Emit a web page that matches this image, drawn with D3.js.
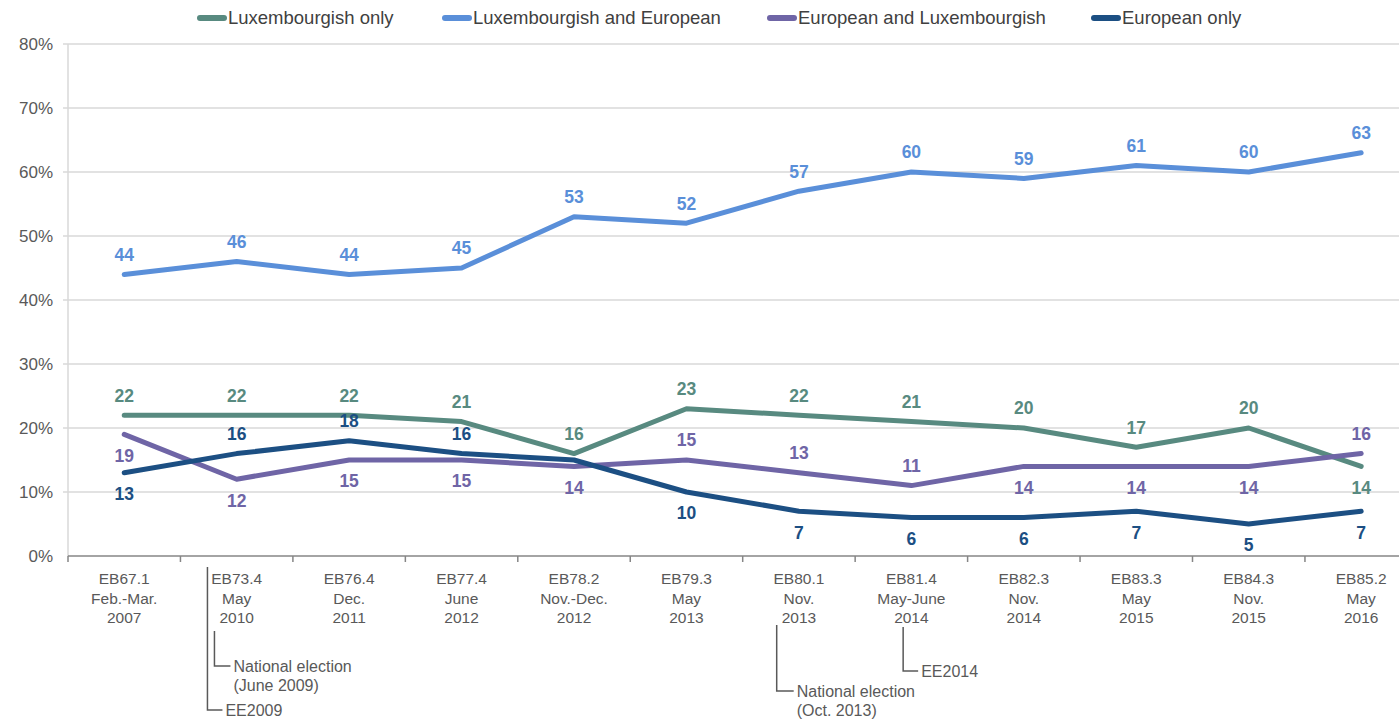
<!DOCTYPE html>
<html>
<head>
<meta charset="utf-8">
<script src="https://cdn.jsdelivr.net/npm/d3@7"></script>
<style>
  body { margin: 0; background: #fff; }
  svg { display: block; font-family: "Liberation Sans", Arial, sans-serif; }
</style>
</head>
<body>
<svg id="chart" width="1399" height="720"></svg>
<script>
// waves of the survey
const waves = ["EB67.1", "EB73.4", "EB76.4", "EB77.4", "EB78.2", "EB79.3", "EB80.1", "EB81.4", "EB82.3", "EB83.3", "EB84.3", "EB85.2"];
const periods = ["Feb.-Mar.", "May", "Dec.", "June", "Nov.-Dec.", "May", "Nov.", "May-June", "Nov.", "May", "Nov.", "May"];
const years = ["2007", "2010", "2011", "2012", "2012", "2013", "2013", "2014", "2014", "2015", "2015", "2016"];

const seriesNames = ["Luxembourgish only", "Luxembourgish and European", "European and Luxembourgish", "European only"];
const luxOnly = [22, 22, 22, 21, 16, 23, 22, 21, 20, 17, 20, 14];
const luxEur = [44, 46, 44, 45, 53, 52, 57, 60, 59, 61, 60, 63];
const eurLux = [19, 12, 15, 15, 14, 15, 13, 11, 14, 14, 14, 16];
const eurOnly = [13, 16, 18, 16, 15, 10, 7, 6, 6, 7, 5, 7];

const yTicks = [0, 10, 20, 30, 40, 50, 60, 70, 80];

// annotations under the axis
const notes = [
  { wave: "EB73.4", lines: ["EE2009"] },
  { wave: "EB73.4", lines: ["National election", "(June 2009)"] },
  { wave: "EB80.1", lines: ["National election", "(Oct. 2013)"] },
  { wave: "EB81.4", lines: ["EE2014"] }
];

// where each label sits: "a" above, "b" below, null hidden
const labelSide = [
  ["a","a","a","a","a","a","a","a","a","a","a","b"],
  ["a","a","a","a","a","a","a","a","a","a","a","a"],
  ["b","b","b","b","b","a","a","a","b","b","b","a"],
  ["b","a","a","a",null,"b","b","b","b","b","b","b"]
];
const colors = ["#588a80", "#5a8fd9", "#6f65a6", "#1c4f83"];
const values = [luxOnly, luxEur, eurLux, eurOnly];

const svg = d3.select("#chart");

const x = d3.scaleBand().domain(waves).range([68, 68 + 12 * 112.45]);
const y = d3.scaleLinear().domain([0, 80]).range([556, 44]);
const cx = d => x(d) + x.bandwidth() / 2;

// grid
svg.append("g").selectAll("line")
  .data(yTicks.filter(t => t > 0))
  .join("line")
  .attr("x1", 63).attr("x2", 1399)
  .attr("y1", d => y(d)).attr("y2", d => y(d))
  .attr("stroke", "#d9d9d9").attr("stroke-width", 1.5);

svg.append("line")
  .attr("x1", 68).attr("x2", 68).attr("y1", y(80)).attr("y2", y(0))
  .attr("stroke", "#d9d9d9").attr("stroke-width", 1.5);

svg.append("g").selectAll("text")
  .data(yTicks)
  .join("text")
  .attr("x", 53).attr("y", d => y(d))
  .attr("dy", "0.35em")
  .attr("text-anchor", "end")
  .attr("fill", "#595959")
  .style("font-size", "17px")
  .text(d => d + "%");

// x axis
svg.append("line")
  .attr("x1", 68).attr("x2", 1399).attr("y1", y(0)).attr("y2", y(0))
  .attr("stroke", "#868686").attr("stroke-width", 1.5);

svg.append("g").selectAll("line")
  .data(waves)
  .join("line")
  .attr("x1", d => x(d)).attr("x2", d => x(d))
  .attr("y1", y(0)).attr("y2", y(0) + 6)
  .attr("stroke", "#868686").attr("stroke-width", 1.5);

const xl = svg.append("g").selectAll("text")
  .data(waves)
  .join("text")
  .attr("text-anchor", "middle")
  .attr("fill", "#595959")
  .style("font-size", "15.5px");
xl.each(function(d, i) {
  const t = d3.select(this);
  [d, periods[i], years[i]].forEach((s, k) => {
    t.append("tspan").attr("x", cx(d)).attr("y", 584 + k * 19.5).text(s);
  });
});

// series lines
const line = d3.line().x((d, i) => cx(waves[i])).y(d => y(d));

values.forEach((vals, s) => {
  svg.append("path")
    .datum(vals)
    .attr("d", line)
    .attr("fill", "none")
    .attr("stroke", colors[s])
    .attr("stroke-width", 5)
    .attr("stroke-linejoin", "round")
    .attr("stroke-linecap", "round");
});

values.forEach((vals, s) => {
  svg.append("g").selectAll("text")
    .data(vals.map((v, i) => ({ v, i, side: labelSide[s][i] })).filter(d => d.side))
    .join("text")
    .attr("x", d => cx(waves[d.i]))
    .attr("y", d => y(d.v) + (d.side === "a" ? -20 : 21))
    .attr("dy", "0.36em")
    .attr("text-anchor", "middle")
    .attr("fill", colors[s])
    .style("font-size", "17.5px")
    .style("font-weight", "bold")
    .text(d => d.v);
});

// legend
const legX = [197, 442, 767, 1091];
seriesNames.forEach((n, s) => {
  svg.append("line")
    .attr("x1", legX[s] + 3).attr("x2", legX[s] + 27)
    .attr("y1", 18).attr("y2", 18)
    .attr("stroke", colors[s]).attr("stroke-width", 6)
    .attr("stroke-linecap", "round");
  svg.append("text")
    .attr("x", legX[s] + 31).attr("y", 18).attr("dy", "0.35em")
    .attr("fill", "#404040")
    .style("font-size", "18.5px")
    .text(n);
});

// election annotations
const noteGeom = [
  { dx: 0, y0: 567, y1: 710, len: 15 },
  { dx: 7, y0: 631, y1: 666, len: 16 },
  { dx: 7, y0: 625, y1: 691, len: 17 },
  { dx: 21, y0: 627, y1: 671, len: 15 }
];
notes.forEach((n, k) => {
  const g = noteGeom[k];
  const lx = x(n.wave) + 27 + g.dx;
  svg.append("path")
    .attr("d", `M${lx},${g.y0}V${g.y1}H${lx + g.len}`)
    .attr("fill", "none").attr("stroke", "#595959").attr("stroke-width", 1.5);
  const t = svg.append("text")
    .attr("fill", "#595959")
    .style("font-size", "16px");
  n.lines.forEach((s, j) => {
    t.append("tspan")
      .attr("x", lx + g.len + 3)
      .attr("y", g.y1 + j * 19)
      .attr("dy", "0.35em")
      .text(s);
  });
});
</script>
</body>
</html>
